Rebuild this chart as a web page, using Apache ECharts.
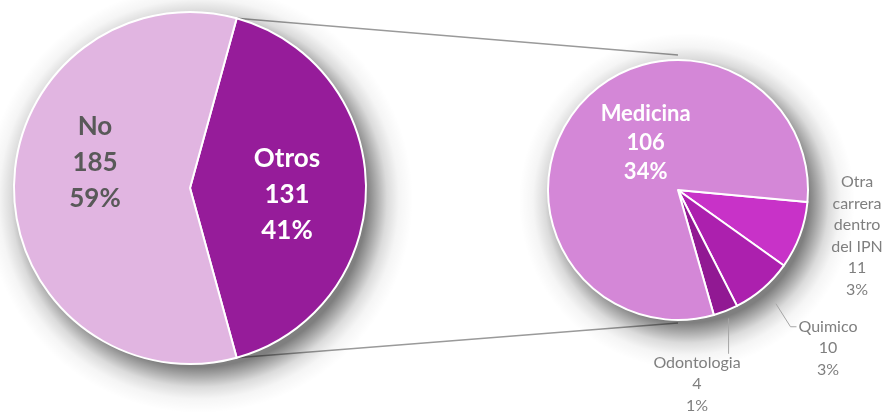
<!DOCTYPE html>
<html>
<head>
<meta charset="utf-8">
<script src="https://cdn.jsdelivr.net/npm/echarts@6/dist/echarts.min.js"></script>
<style>
  html, body { margin: 0; padding: 0; background: #ffffff; }
  #chart { width: 890px; height: 412px; }
</style>
</head>
<body>
<div id="chart"></div>
<script>
// Data
const mainNames = ['Otros', 'No'];
const mainValues = [131, 185];
const subNames = ['Otra\ncarrera\ndentro\ndel IPN', 'Quimico', 'Odontologia', 'Medicina'];
const subValues = [11, 10, 4, 106];

// Colours
const mainColors = ['#961c9a', '#e1b5e1'];
const subColors = ['#c832c8', '#ac20ae', '#911993', '#d487d7'];

// Layout
const mainCenter = [190, 188];
const mainRadius = 176;
const subCenter = [678, 190];
const subRadius = 130;
const subStartAngle = -5.3;
// outside label centres, relative to the small pie centre
const subLabelPos = [[179, 46], [150, 158], [19, 194]];

const total = mainValues.reduce((a, b) => a + b, 0);
const subTotal = subValues.reduce((a, b) => a + b, 0);
const otrosShare = mainValues[0] / total * 360;
const mainStartAngle = otrosShare / 2;

const pctText = v => Math.round(v / total * 100) + '%';
const fmt = p => p.name + '\n' + p.value + '\n' + pctText(p.value);

const rad = Math.PI / 180;

// mid angle of each slice of the small pie (echarts convention, degrees)
const subMid = [];
let acc = subStartAngle;
subValues.forEach(v => {
  const span = v / subTotal * 360;
  subMid.push(acc - span / 2);
  acc -= span;
});
const onSub = (ang, r) => [subCenter[0] + r * Math.cos(ang * rad), subCenter[1] - r * Math.sin(ang * rad)];

// connector points, from the pie geometry
const topStart = [mainCenter[0] + mainRadius * Math.cos(mainStartAngle * rad),
                  mainCenter[1] - mainRadius * Math.sin(mainStartAngle * rad)];
const botStart = [mainCenter[0] + mainRadius * Math.cos((mainStartAngle - otrosShare) * rad),
                  mainCenter[1] - mainRadius * Math.sin((mainStartAngle - otrosShare) * rad)];
const topEnd = [subCenter[0], subCenter[1] - subRadius - 5];
const botEnd = [subCenter[0], subCenter[1] + subRadius + 3];

// soft drop shadow drawn as a radial gradient disc
const shadow = (c, r) => {
  const spread = 38;
  const R = r + spread;
  return {
    type: 'circle', z: -5, silent: true,
    shape: { cx: c[0] + 9, cy: c[1] + 11, r: R },
    style: {
      fill: {
        type: 'radial', x: 0.5, y: 0.5, r: 0.5,
        colorStops: [
          { offset: 0, color: 'rgba(0,0,0,0.5)' },
          { offset: (r - 8) / R, color: 'rgba(0,0,0,0.5)' },
          { offset: (r + 2) / R, color: 'rgba(0,0,0,0.32)' },
          { offset: (r + 12) / R, color: 'rgba(0,0,0,0.14)' },
          { offset: (r + 24) / R, color: 'rgba(0,0,0,0.04)' },
          { offset: 1, color: 'rgba(0,0,0,0)' }
        ]
      }
    }
  };
};

const mainLabels = [
  { color: '#ffffff', offset: [6, 7] },
  { color: '#595959', offset: [-4, -25] }
];

const chart = echarts.init(document.getElementById('chart'));

const option = {
  backgroundColor: '#ffffff',
  animation: false,
  graphic: [
    { type: 'line', z: -10, silent: true,
      shape: { x1: topStart[0], y1: topStart[1], x2: topEnd[0], y2: topEnd[1] },
      style: { stroke: '#9a9a9a', lineWidth: 1.4 } },
    { type: 'line', z: -10, silent: true,
      shape: { x1: botStart[0], y1: botStart[1], x2: botEnd[0], y2: botEnd[1] },
      style: { stroke: '#9a9a9a', lineWidth: 1.4 } },
    shadow(mainCenter, mainRadius),
    shadow(subCenter, subRadius)
  ],
  series: [
    // main pie
    {
      type: 'pie', z: 2,
      center: mainCenter, radius: [0, mainRadius],
      startAngle: mainStartAngle,
      emphasis: { disabled: true },
      itemStyle: { borderColor: '#ffffff', borderWidth: 2 },
      label: {
        position: 'inside',
        formatter: fmt,
        fontFamily: 'Lato',
        fontWeight: 'bold',
        fontSize: 26,
        lineHeight: 36
      },
      labelLine: { show: false },
      data: mainNames.map((n, i) => ({
        name: n,
        value: mainValues[i],
        itemStyle: { color: mainColors[i] },
        label: mainLabels[i]
      }))
    },
    // breakdown pie
    {
      type: 'pie', z: 2,
      center: subCenter, radius: [0, subRadius],
      startAngle: subStartAngle,
      emphasis: { disabled: true },
      itemStyle: { borderColor: '#ffffff', borderWidth: 2 },
      label: {
        position: 'outside',
        formatter: fmt,
        fontFamily: 'Lato',
        fontSize: 16,
        lineHeight: 21.5,
        color: '#7f7f7f',
        align: 'center'
      },
      labelLine: {
        show: true,
        length: 10,
        length2: 10,
        lineStyle: { color: '#a6a6a6', width: 1 }
      },
      labelLayout: function (p) {
        const i = p.dataIndex;
        const pos = subLabelPos[i];
        if (!pos) return {};
        const cx = subCenter[0] + pos[0];
        const cy = subCenter[1] + pos[1];
        const w = p.labelRect.width;
        const h = p.labelRect.height;
        const out = { x: cx, y: cy, align: 'center', verticalAlign: 'middle' };
        if (i === 1) {
          const a = onSub(subMid[i], subRadius + 20);
          const left = cx - w / 2;
          const y1 = cy - h / 2 + 11;
          out.labelLinePoints = [a, [left - 8, y1], [left - 2, y1]];
        } else if (i === 2) {
          const a = onSub(subMid[i], subRadius + 8);
          const top = cy - h / 2 + 2;
          out.labelLinePoints = [a, [a[0], top], [a[0], top]];
        }
        return out;
      },
      data: subNames.map((n, i) => {
        const item = { name: n, value: subValues[i], itemStyle: { color: subColors[i] } };
        if (i === 0) item.labelLine = { show: false };
        if (i === 3) {
          item.label = {
            position: 'inside',
            color: '#ffffff',
            fontWeight: 'bold',
            fontSize: 22,
            lineHeight: 29,
            offset: [20, -4]
          };
          item.labelLine = { show: false };
        }
        return item;
      })
    }
  ]
};

chart.setOption(option);
</script>
</body>
</html>
